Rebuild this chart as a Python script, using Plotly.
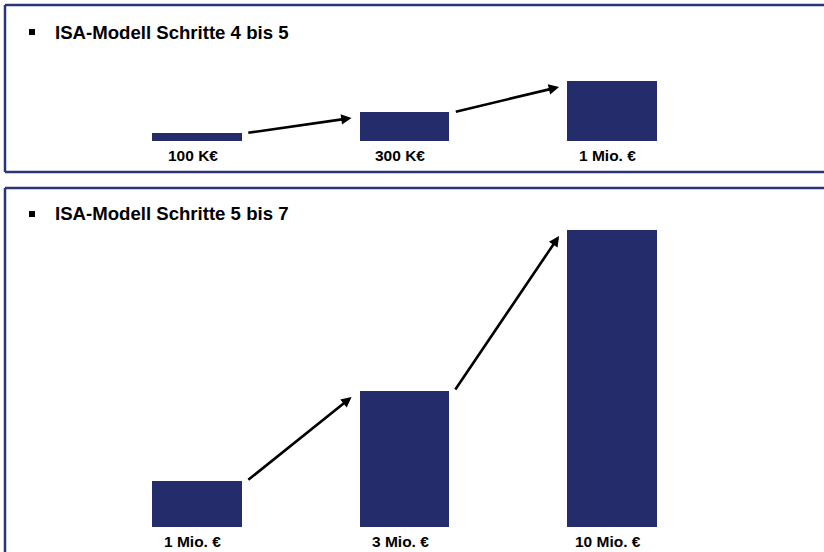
import plotly.graph_objects as go

W, H = 824, 552

# Daten (schematische Balkenhöhen wie im Bild)
stufen_oben = ["100 K€", "300 K€", "1 Mio. €"]
hoehe_oben = [8, 29, 60]
stufen_unten = ["1 Mio. €", "3 Mio. €", "10 Mio. €"]
hoehe_unten = [46, 136, 297]
titel = ["ISA-Modell Schritte 4 bis 5", "ISA-Modell Schritte 5 bis 7"]

NAVY = "#242c6b"
RAHMEN = "#2b3479"
BAR_W = 0.43
FONT = "Liberation Sans, Arial, sans-serif"


def px_x(px):
    return px / W


def px_y(py):
    return 1 - py / H


fig = go.Figure()

panels = [
    (stufen_oben, hoehe_oben, "x", "y"),
    (stufen_unten, hoehe_unten, "x2", "y2"),
]

annotations = []
for labels, hoehe, xa, ya in panels:
    pos = list(range(len(labels)))
    fig.add_trace(go.Bar(
        x=pos, y=hoehe, width=BAR_W,
        marker=dict(color=NAVY, line=dict(width=0)),
        xaxis=xa, yaxis=ya, hoverinfo="skip", showlegend=False
    ))
    # Beschriftung unter den Balken
    for p, lab in zip(pos, labels):
        annotations.append(dict(
            x=p - 0.02, y=-14, xref=xa, yref=ya, text="<b>%s</b>" % lab,
            showarrow=False, xanchor="center", yanchor="middle",
            font=dict(family=FONT, size=15.5, color="black")
        ))
    # Pfeile zwischen den Balken
    for i in range(len(pos) - 1):
        annotations.append(dict(
            ax=pos[i] + BAR_W / 2 + 0.025, ay=hoehe[i],
            x=pos[i + 1] - BAR_W / 2 - 0.04, y=hoehe[i + 1] - 6,
            xref=xa, yref=ya, axref=xa, ayref=ya, text="",
            showarrow=True, arrowhead=2, arrowsize=0.8, arrowwidth=2.6,
            arrowcolor="black", standoff=0, startstandoff=0
        ))

# Überschriften mit Aufzählungszeichen
shapes = []
for t, ty in zip(titel, [32, 214]):
    annotations.append(dict(
        x=px_x(53), y=px_y(ty), xref="paper", yref="paper",
        text="<b>%s</b>" % t, showarrow=False,
        xanchor="left", yanchor="middle",
        font=dict(family=FONT, size=18.6, color="black")
    ))
    shapes.append(dict(
        type="rect", xref="paper", yref="paper",
        x0=px_x(29), x1=px_x(35), y0=px_y(ty - 3), y1=px_y(ty + 3),
        fillcolor="black", line=dict(width=0)
    ))

# Rahmen der beiden Felder
for x0, y0, x1, y1 in [(5, 5, 830, 5), (5, 5, 5, 172), (5, 172, 830, 172),
                       (5, 188, 830, 188), (5, 188, 5, 560)]:
    shapes.append(dict(
        type="line", xref="paper", yref="paper",
        x0=px_x(x0), y0=px_y(y0), x1=px_x(x1), y1=px_y(y1),
        line=dict(color=RAHMEN, width=2.5)
    ))

xrange = [(0 - 197) / 207.5, (W - 197) / 207.5]
axis_off = dict(visible=False, fixedrange=True, showgrid=False, zeroline=False)

fig.update_layout(
    width=W, height=H,
    margin=dict(l=0, r=0, t=0, b=0),
    paper_bgcolor="white", plot_bgcolor="white",
    xaxis=dict(axis_off, range=xrange, domain=[0, 1], anchor="y"),
    yaxis=dict(axis_off, range=[141 - 172, 141 - 5],
               domain=[px_y(172), px_y(5)], anchor="x"),
    xaxis2=dict(axis_off, range=xrange, domain=[0, 1], anchor="y2"),
    yaxis2=dict(axis_off, range=[527 - 552, 527 - 188],
                domain=[0, px_y(188)], anchor="x2"),
    annotations=annotations,
    shapes=shapes,
    bargap=0,
)

fig.write_html(
    "out.html",
    config={"displayModeBar": False},
    post_script="document.body.style.margin='0';document.body.style.overflow='hidden';",
)
